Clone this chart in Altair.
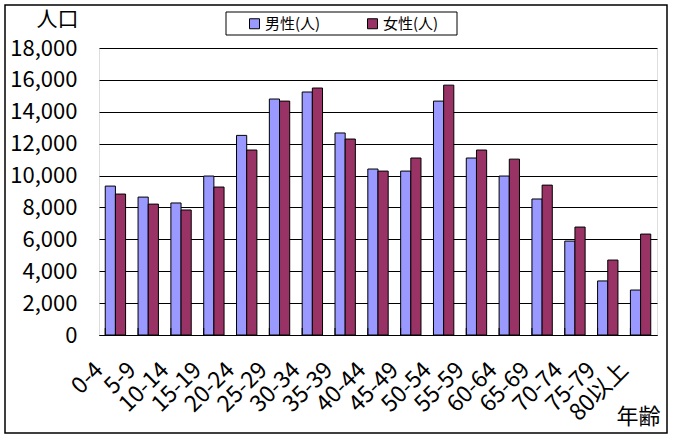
import altair as alt
import pandas as pd

ages = ["0-4", "5-9", "10-14", "15-19", "20-24", "25-29", "30-34", "35-39",
        "40-44", "45-49", "50-54", "55-59", "60-64", "65-69", "70-74", "75-79", "80以上"]
male = [9340, 8650, 8280, 9970, 12520, 14800, 15240, 12670, 10410, 10280,
        14670, 11100, 9970, 8530, 5890, 3390, 2820]
female = [8840, 8210, 7840, 9280, 11600, 14670, 15490, 12290, 10280, 11100,
          15670, 11600, 11030, 9400, 6770, 4700, 6330]
series = ["男性(人)", "女性(人)"]
colors = ["#9999FF", "#993366"]
y_ticks = list(range(0, 18001, 2000))

rows = []
for i, a in enumerate(ages):
    rows.append({"age": a, "sex": series[0], "value": male[i]})
    rows.append({"age": a, "sex": series[1], "value": female[i]})
df = pd.DataFrame(rows)

FONT = "Noto Sans CJK JP"
W, H = 558, 287

xscale = alt.Scale(paddingInner=0.38, paddingOuter=0.19)

bars = alt.Chart(df).mark_bar(stroke="black", strokeWidth=1).encode(
    x=alt.X("age:N", sort=ages, scale=xscale,
            axis=alt.Axis(title="年齢", labelAngle=-45, labelAlign="right",
                          labelBaseline="middle", labelPadding=31, labelOffset=-16,
                          ticks=False, domainColor="black", labelFontSize=23,
                          labelColor="black", titleFontSize=22, titleFontWeight="normal",
                          titleX=539, titleY=81, titleAlign="center",
                          titleBaseline="middle", titleColor="black")),
    xOffset=alt.XOffset("sex:N", sort=series),
    y=alt.Y("value:Q", scale=alt.Scale(domain=[0, 18000], nice=False),
            axis=alt.Axis(title="人口", values=y_ticks, format=",d", ticks=False,
                          domain=False, labelPadding=22, labelFontSize=22,
                          labelColor="black", gridColor="black", gridOpacity=1,
                          titleAngle=0, titleX=-42, titleY=-29, titleAlign="center",
                          titleBaseline="middle", titleFontSize=21,
                          titleFontWeight="normal", titleColor="black")),
    color=alt.Color("sex:N", sort=series,
                    scale=alt.Scale(domain=series, range=colors),
                    legend=alt.Legend(title=None, orient="none", direction="horizontal",
                                      legendX=148, legendY=-32, padding=0,
                                      symbolType="square", symbolSize=100,
                                      symbolStrokeColor="black", symbolStrokeWidth=1,
                                      symbolOpacity=1, labelFontSize=15,
                                      labelColor="black", labelOffset=3,
                                      columnPadding=44)),
)

tick_df = pd.DataFrame({"age": ages})
ticks = alt.Chart(tick_df).mark_rule(color="black", strokeWidth=1).encode(
    x=alt.X("age:N", sort=ages, bandPosition=0),
    y=alt.value(H),
    y2=alt.value(H - 7),
)

one = pd.DataFrame({"k": [0]})
legend_box = alt.Chart(one).mark_rect(fill="white", stroke="black", strokeWidth=1).encode(
    x=alt.value(127), x2=alt.value(358), y=alt.value(-36), y2=alt.value(-13)
)
frame = alt.Chart(one).mark_rect(fill=None, stroke="black", strokeWidth=1.5).encode(
    x=alt.value(-94), x2=alt.value(568), y=alt.value(-43), y2=alt.value(385)
)

chart = alt.layer(frame, legend_box, bars, ticks).properties(
    width=W, height=H,
    autosize=alt.AutoSizeParams(type="none"),
    padding={"left": 99, "top": 48, "right": 16, "bottom": 105},
    background="white",
).configure_view(
    fill="#C0C0C0", stroke="#808080", strokeWidth=1
).configure(font=FONT)

chart.save("out.html", embed_options={"renderer": "svg", "actions": False})
